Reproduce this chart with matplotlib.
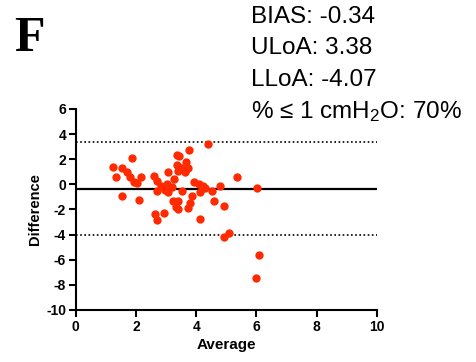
import matplotlib.pyplot as plt

# Datos
promedio = [1.23, 1.34, 1.52, 1.55, 1.69, 1.80, 1.86, 1.93, 2.04, 2.15, 2.10,
            2.61, 2.69, 2.71, 2.63, 2.71, 2.93, 2.83, 2.94, 3.07, 3.07, 3.18,
            3.27, 3.24, 3.33, 3.38, 3.40, 3.35, 3.35, 3.44, 3.40, 3.51, 3.54,
            3.66, 3.62, 3.71, 3.77, 3.73, 3.79, 3.86, 3.91, 4.10, 4.12, 4.14,
            4.23, 4.29, 4.40, 4.54, 4.59, 4.78, 4.93, 4.92, 5.08, 5.34, 6.02,
            6.08, 5.98, 3.02, 2.96]
diferencia = [1.40, 0.60, 1.32, -0.94, 0.95, 0.55, 2.09, 0.21, 0.10, 0.55, -1.23,
              0.66, 0.23, -0.57, -2.37, -2.83, -2.30, -0.11, -0.25, 0.95, -0.65, -0.22,
              0.45, -1.36, -1.77, -1.98, -1.36, 1.53, 2.36, 2.28, 1.08, 1.29, -0.51,
              1.75, 0.95, 1.29, 2.76, -1.85, -1.50, -0.91, 0.18, 0.05, -0.65, -2.75,
              -0.17, -0.30, 3.21, -0.51, -1.36, -0.17, -1.71, -4.21, -3.89, 0.55, -0.33,
              -5.62, -7.48, 0.00, -0.44]

bias = -0.34
uloa = 3.38
lloa = -4.07
pct = 70

xticks = [0, 2, 4, 6, 8, 10]
yticks = [-10, -8, -6, -4, -2, 0, 2, 4, 6]

plt.rcParams['font.family'] = ['Liberation Sans', 'DejaVu Sans']
plt.rcParams['mathtext.fontset'] = 'custom'
plt.rcParams['mathtext.rm'] = 'Liberation Sans'
plt.rcParams['mathtext.it'] = 'Liberation Sans:italic'

fig = plt.figure(figsize=(4.77, 3.62), dpi=100)
ax = fig.add_axes([0.159, 0.144, 0.631, 0.555])

ax.scatter(promedio, diferencia, s=36, color='#FF2A00', zorder=3, linewidths=0)

# Líneas de sesgo y límites de acuerdo
ax.axhline(bias, color='black', lw=1.6, zorder=2)
ax.axhline(uloa, color='black', lw=1.2, ls=(0, (1, 1.5)), zorder=2)
ax.axhline(lloa, color='black', lw=1.2, ls=(0, (1, 1.5)), zorder=2)

ax.set_xlim(0, 10)
ax.set_ylim(-10, 6)
ax.set_xticks(xticks, [str(v) for v in xticks], fontweight='bold')
ax.set_yticks(yticks, [str(v) for v in yticks], fontweight='bold')
for s in ['top', 'right']:
    ax.spines[s].set_visible(False)
for s in ['left', 'bottom']:
    ax.spines[s].set_linewidth(1.5)
ax.tick_params(width=1.5, length=5, labelsize=10, pad=2)

ax.set_xlabel('Average', fontsize=11, fontweight='bold', labelpad=3)
ax.set_ylabel('Difference', fontsize=10.5, fontweight='bold', labelpad=3)

# Panel y estadísticas
fig.text(0.03, 0.955, 'F', fontsize=36, fontweight='bold', family='Liberation Serif',
         va='top', ha='left')
textos = ['BIAS: %.2f' % bias, 'ULoA: %.2f' % uloa, 'LLoA: %.2f' % lloa,
          '% ≤ 1 cmH$_2$O: ' + str(pct) + '%']
for i, t in enumerate(textos):
    fig.text(0.527, 0.954 - i * 0.0876, t, fontsize=17.5, va='center', ha='left')

plt.savefig('out.png', dpi=100)
plt.close()
